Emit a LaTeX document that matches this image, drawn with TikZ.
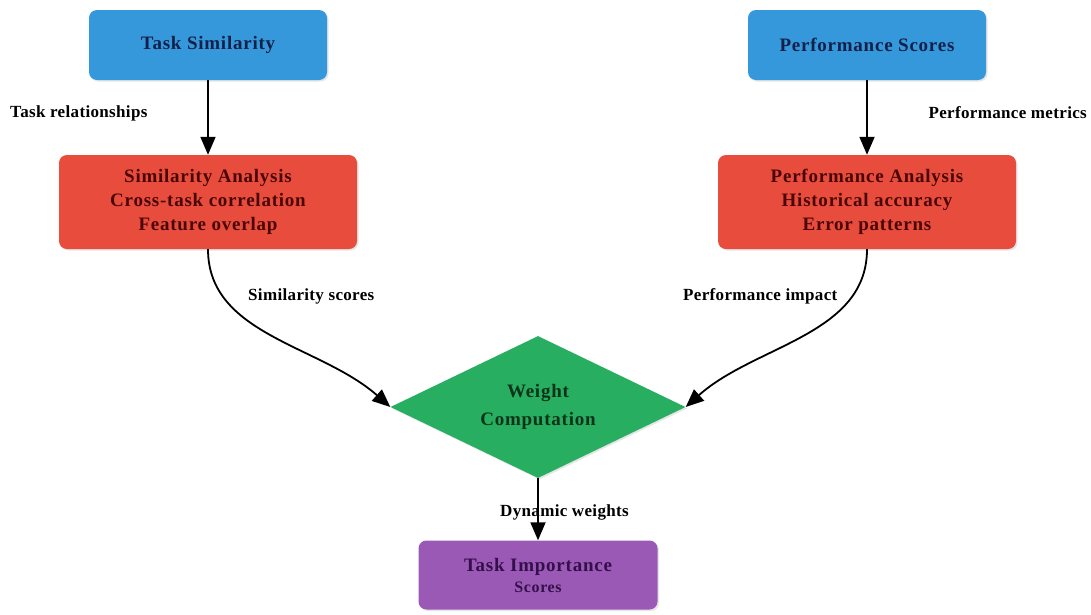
\documentclass[tikz,border=0pt]{standalone}
\usepackage{fontspec}
\setmainfont{Liberation Serif}
\usetikzlibrary{shapes.geometric,arrows.meta,shadows}
\definecolor{boxblue}{HTML}{3498DB}
\definecolor{boxred}{HTML}{E74C3C}
\definecolor{boxgreen}{HTML}{27AE60}
\definecolor{boxpurple}{HTML}{9B59B6}
\definecolor{txtblue}{HTML}{13214A}
\definecolor{txtred}{HTML}{4A0606}
\definecolor{txtgreen}{HTML}{0C3318}
\definecolor{txtpurple}{HTML}{33104A}
\begin{document}
\begin{tikzpicture}[x=1pt,y=-1pt,
  base/.style={rounded corners=8pt, inner sep=0pt, align=center,
    font=\bfseries\fontsize{19}{24}\selectfont\addfontfeatures{LetterSpace=4},
    drop shadow={opacity=0.2, shadow xshift=1.5pt, shadow yshift=-1.5pt}},
  bluebox/.style={base, fill=boxblue, text=txtblue, minimum width=238pt, minimum height=70pt},
  redbox/.style={base, fill=boxred, text=txtred, minimum width=298pt, minimum height=94pt},
  purplebox/.style={base, fill=boxpurple, text=txtpurple, minimum width=239pt, minimum height=69pt},
  greendia/.style={diamond, aspect=2.08, fill=boxgreen, text=txtgreen, inner sep=0pt, align=center,
    minimum width=295pt, minimum height=142pt,
    font=\bfseries\fontsize{19}{28}\selectfont\addfontfeatures{LetterSpace=4},
    drop shadow={opacity=0.2, shadow xshift=1.5pt, shadow yshift=-1.5pt}},
  lbl/.style={font=\bfseries\fontsize{17}{20}\selectfont\addfontfeatures{LetterSpace=2}, text=black, inner sep=0pt},
  arr/.style={draw=black, line width=1.8pt, -{Triangle[width=15pt,length=18pt]}}
]
\useasboundingbox[fill=white] (0,0) rectangle (1091,614);

\node[bluebox] (ts) at (208,45) {Task Similarity};
\node[bluebox] (ps) at (867,45) {Performance Scores};
\node[redbox] (sa) at (208,202) {Similarity Analysis\\Cross-task correlation\\Feature overlap};
\node[redbox] (pa) at (867,202) {Performance Analysis\\Historical accuracy\\Error patterns};
\node[greendia] (wc) at (538,407) {Weight\\Computation};
\node[purplebox] (ti) at (538,575) {Task Importance\\[-3pt]{\fontsize{16}{18}\selectfont Scores}};

\draw[arr] (ts.south) -- (sa.north);
\draw[arr] (ps.south) -- (pa.north);
\draw[arr] (sa.south) .. controls (208,335) and (320,345) .. (wc.west);
\draw[arr] (pa.south) .. controls (867,335) and (755,345) .. (wc.east);
\draw[arr] (wc.south) -- (ti.north);

\node[lbl, anchor=west] (l1) at (10,113) {Task relationships};
\node[lbl, anchor=east] (l2) at (1087,113) {Performance metrics};
\node[lbl, anchor=west] (l3) at (248,296) {Similarity scores};
\node[lbl, anchor=west] (l4) at (683,296) {Performance impact};
\node[lbl, anchor=west] (l5) at (500,512) {Dynamic weights};
\end{tikzpicture}
\end{document}
